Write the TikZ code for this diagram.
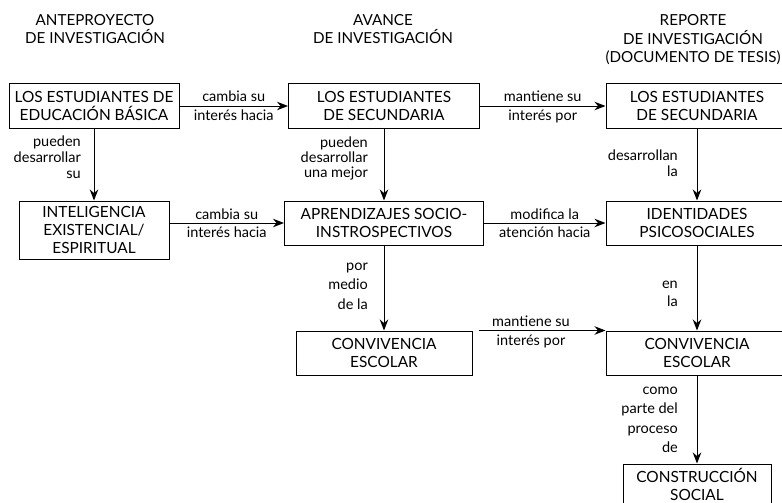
\documentclass[tikz,border=0pt]{standalone}
\usepackage{fontspec}
\setmainfont{Lato}
\usetikzlibrary{arrows.meta}
\begin{document}
\begin{tikzpicture}[x=1pt,y=-1pt,
  box/.style={draw=black, line width=1pt, align=center, inner sep=0pt,
    font=\fontsize{15.4}{18}\selectfont, minimum height=44pt},
  head/.style={align=center, inner sep=0pt, font=\fontsize{15.2}{18.5}\selectfont},
  arr/.style={line width=1pt, -{Stealth[length=11pt,width=8.5pt,inset=3.5pt]}},
  hlab/.style={anchor=base, inner sep=0pt, font=\fontsize{14.5}{16}\selectfont},
  vlab/.style={anchor=east, align=right, inner sep=0pt},
]
\useasboundingbox (0,0) rectangle (782,503);
\clip (0,0) rectangle (782,503);

% column headings (anchored on the baseline of their last line)
\node[head, anchor=base] (h1) at (95,44) {ANTEPROYECTO\\DE INVESTIGACIÓN};
\node[head, anchor=base] (h2) at (383,44) {AVANCE\\DE INVESTIGACIÓN};
\node[head, anchor=base] (h3) at (693,63) {REPORTE\\DE INVESTIGACIÓN\\(DOCUMENTO DE TESIS)};

% boxes
\node[box, minimum width=170pt] (A1) at (94,106) {LOS ESTUDIANTES DE\\EDUCACIÓN BÁSICA};
\node[box, minimum width=150pt, minimum height=58pt] (A2) at (94,230) {INTELIGENCIA\\EXISTENCIAL/\\ESPIRITUAL};
\node[box, minimum width=191pt] (B1) at (384,106) {LOS ESTUDIANTES\\DE SECUNDARIA};
\node[box, minimum width=199pt] (B2) at (384,223) {APRENDIZAJES SOCIO-\\INSTROSPECTIVOS};
\node[box, minimum width=176pt] (B3) at (384,353) {CONVIVENCIA\\ESCOLAR};
\node[box, minimum width=182pt] (C1) at (697,106) {LOS ESTUDIANTES\\DE SECUNDARIA};
\node[box, minimum width=182pt] (C2) at (697,223) {IDENTIDADES\\PSICOSOCIALES};
\node[box, minimum width=182pt] (C3) at (697,353) {CONVIVENCIA\\ESCOLAR};
\node[box, minimum width=148pt, minimum height=41pt] (C4) at (697,484.5) {CONSTRUCCIÓN\\SOCIAL};

% horizontal connectors
\draw[arr] (A1) -- node[hlab, yshift=4pt] {cambia su} node[hlab, yshift=-14.5pt] {interés hacia} (B1);
\draw[arr] (B1) -- node[hlab, yshift=4pt] {mantiene su} node[hlab, yshift=-14.5pt] {interés por} (C1);
\draw[arr] (A2.east |- B2.west) -- node[hlab, yshift=4pt] {cambia su} node[hlab, yshift=-14pt] {interés hacia} (B2.west);
\draw[arr] (B2) -- node[hlab, yshift=4pt] {modifica la} node[hlab, yshift=-14pt] {atención hacia} (C2);
\draw[arr, shorten <=6pt] (B3.north east) -- node[hlab, yshift=4pt, xshift=-8pt] {mantiene su} node[hlab, yshift=-15pt, xshift=-8pt] {interés por} (C3.north west);

% vertical connectors
\draw[arr] (A1) -- (A2);
\draw[arr] (B1) -- (B2);
\draw[arr] (B2) -- (B3);
\draw[arr] (C1) -- (C2);
\draw[arr] (C2) -- (C3);
\draw[arr] (C3) -- (C4);

% labels of the vertical connectors
\node[vlab, font=\fontsize{14.5}{16}\selectfont] (la) at (81,157) {pueden\\desarrollar\\su};
\node[vlab, font=\fontsize{14.5}{15}\selectfont] (lb) at (368,158.2) {pueden\\desarrollar\\una mejor};
\node[vlab, font=\fontsize{14.5}{19.5}\selectfont] (lc) at (368,286) {por\\medio\\de la};
\node[vlab, font=\fontsize{14.5}{16}\selectfont] (ld) at (678,163) {desarrollan\\la};
\node[vlab, font=\fontsize{14.5}{18}\selectfont] (le) at (678,293.5) {en\\la};
\node[vlab, font=\fontsize{14.5}{19.5}\selectfont] (lf) at (678,420) {como\\parte del\\proceso\\de};
\end{tikzpicture}
\end{document}
